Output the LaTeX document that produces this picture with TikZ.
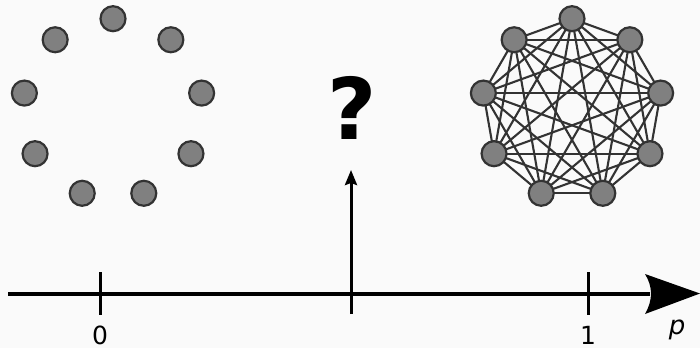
\documentclass[tikz,border=0pt]{standalone}
\usepackage{fontspec}
\setmainfont{DejaVu Sans}
\usetikzlibrary{arrows.meta}
\definecolor{bgc}{HTML}{FAFAFA}
\definecolor{nodefill}{HTML}{808080}
\definecolor{edgec}{HTML}{333333}
\pgfdeclarelayer{bglayer}
\pgfdeclarelayer{edgelayer}
\pgfsetlayers{bglayer,edgelayer,main}
\tikzset{
  vert/.style={circle, minimum size=25pt, inner sep=0pt, fill=nodefill, draw=edgec, line width=2.2pt},
  gedge/.style={draw=edgec, line width=2.1pt},
  axisline/.style={line width=4pt, black},
  tickline/.style={line width=3pt, black},
  lab/.style={font=\fontsize{25}{25}\selectfont, inner sep=0pt, anchor=base}
}
\begin{document}
\begin{tikzpicture}[x=1pt,y=-1pt]
\begin{pgfonlayer}{bglayer}
\fill[bgc] (0,0) rectangle (700,348);
\end{pgfonlayer}
\useasboundingbox (0,0) rectangle (700,348);
% left empty graph
\foreach \i in {0,...,8} {
  \node[vert] (L\i) at ({113+90*cos(90+40*\i)}, {108.7-90*sin(90+40*\i)}) {};
}
% right complete graph
\foreach \i in {0,...,8} {
  \node[vert] (R\i) at ({572+90*cos(90+40*\i)}, {108.7-90*sin(90+40*\i)}) {};
}
\begin{pgfonlayer}{edgelayer}
\foreach \i in {0,...,7} {
  \pgfmathtruncatemacro{\s}{\i+1}
  \foreach \j in {\s,...,8} {
    \draw[gedge] (R\i.center) -- (R\j.center);
  }
}
\end{pgfonlayer}
% axis
\coordinate (axstart) at (8,293.5);
\coordinate (axend) at (650,293.5);
\coordinate (tip) at (700,293.5);
\draw[axisline] (axstart) -- (axend);
\fill[black] (tip) -- (645,274) .. controls (653,287) and (653,300) .. (645,314) -- cycle;
% ticks
\coordinate (t0a) at (100,272); \coordinate (t0b) at (100,315);
\coordinate (t1a) at (588,272); \coordinate (t1b) at (588,315);
\draw[tickline] (t0a) -- (t0b);
\draw[tickline] (t1a) -- (t1b);
\coordinate (mbot) at (351,314);
\coordinate (mtop) at (351,170);
\draw[tickline, -{Stealth[length=15pt,width=12pt,inset=2pt]}] (mbot) -- (mtop);
% labels
\node[lab] (zero) at (100,344) {0};
\node[lab] (one) at (588,344) {1};
\node[lab, font=\fontsize{26}{26}\selectfont\itshape] (pvar) at (677,334) {p};
\node[font=\fontsize{85}{85}\selectfont\bfseries, inner sep=0pt] (qm) at (352,108) {?};
\end{tikzpicture}
\end{document}
